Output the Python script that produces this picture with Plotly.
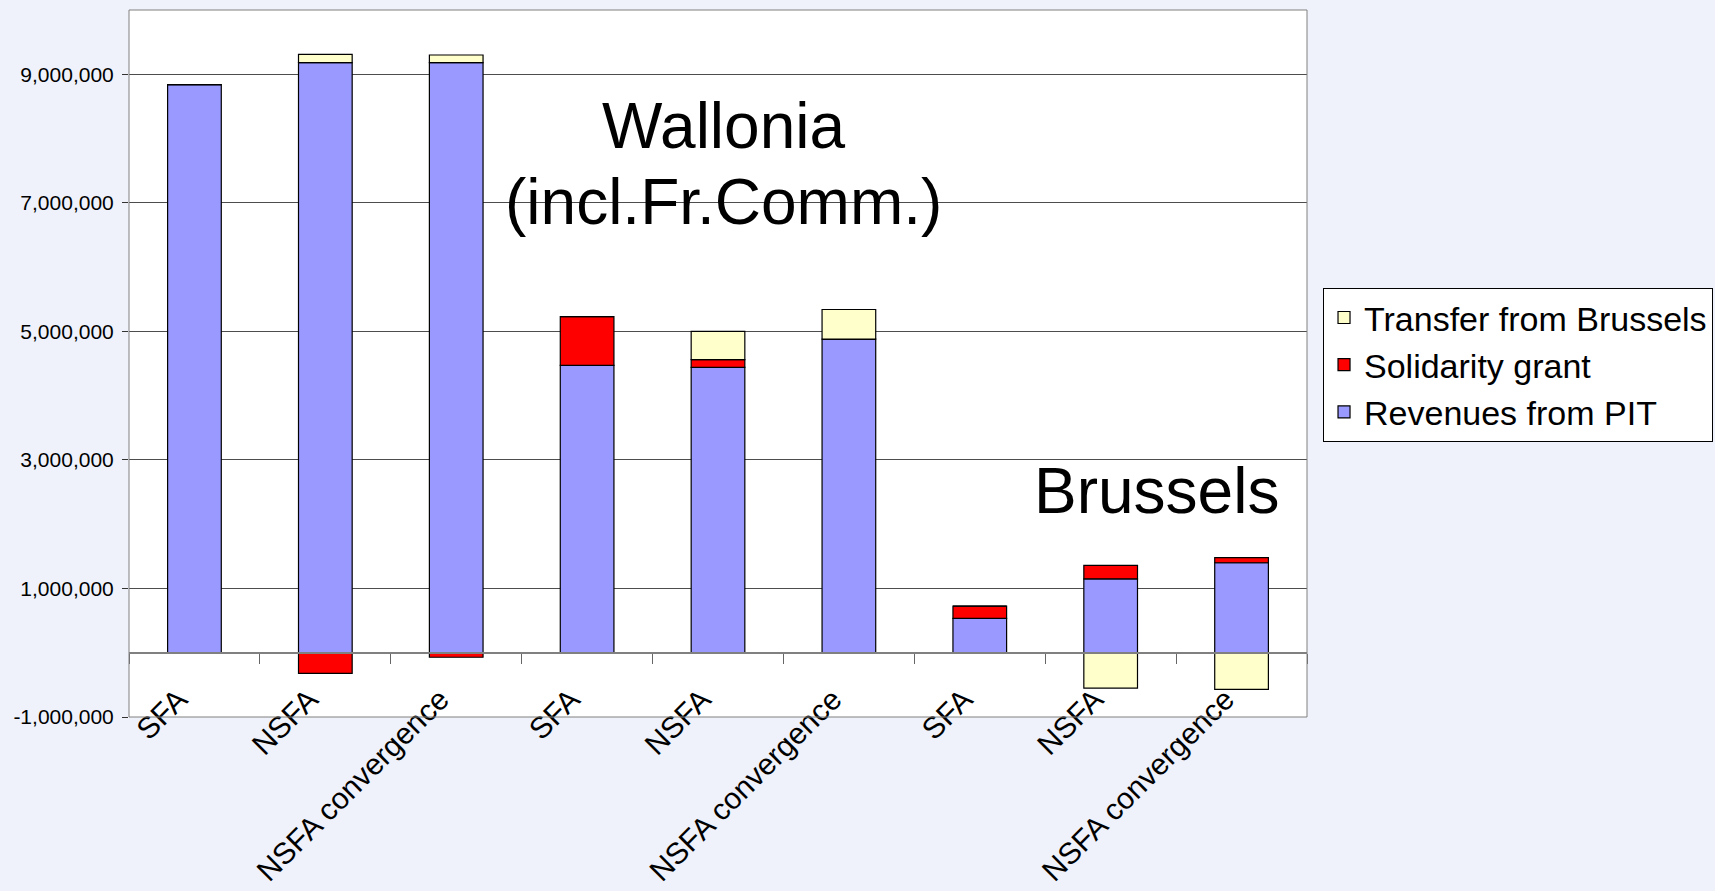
import plotly.graph_objects as go

regions = ["Flanders", "Flanders", "Flanders",
           "Wallonia", "Wallonia", "Wallonia",
           "Brussels", "Brussels", "Brussels"]
scenarios = ["SFA", "NSFA", "NSFA convergence",
             "SFA", "NSFA", "NSFA convergence",
             "SFA", "NSFA", "NSFA convergence"]
revenues_pit = [8840000, 9180000, 9180000, 4470000, 4440000, 4880000, 535000, 1150000, 1400000]
solidarity_grant = [0, -320000, -70000, 760000, 120000, 0, 190000, 210000, 80000]
transfer_brussels = [0, 130000, 120000, 0, 440000, 460000, 0, -550000, -570000]

y_min, y_max = -1000000, 10000000
y_ticks = [-1000000, 1000000, 3000000, 5000000, 7000000, 9000000]
y_ticktext = [f"{v:,}" for v in y_ticks]
keys = [f"{r} {s}" for r, s in zip(regions, scenarios)]

font_family = "Liberation Sans, Arial, sans-serif"
line_style = dict(color="black", width=1.2)
bg = "#EFF2FA"

fig = go.Figure()
fig.add_trace(go.Bar(name="Revenues from PIT", x=keys, y=revenues_pit,
                     marker=dict(color="#9999FF", line=line_style), width=0.41))
fig.add_trace(go.Bar(name="Solidarity grant", x=keys, y=solidarity_grant,
                     marker=dict(color="#FF0000", line=line_style), width=0.41))
fig.add_trace(go.Bar(name="Transfer from Brussels", x=keys, y=transfer_brussels,
                     marker=dict(color="#FFFFCC", line=line_style), width=0.41))

fig.update_layout(
    width=1715, height=891,
    margin=dict(l=129, r=408, t=10, b=174, autoexpand=False),
    paper_bgcolor=bg,
    plot_bgcolor="white",
    barmode="relative",
    font=dict(family=font_family, color="black"),
    showlegend=True,
    legend=dict(
        x=1.0136, xanchor="left", y=0.498, yanchor="middle",
        traceorder="reversed",
        bgcolor="white", bordercolor="black", borderwidth=1,
        font=dict(size=34, family=font_family, color="black"),
    ),
    xaxis=dict(
        type="category",
        categoryorder="array", categoryarray=keys,
        tickmode="array", tickvals=keys, ticktext=scenarios,
        tickangle=-45,
        tickfont=dict(size=30, family=font_family, color="black"),
        anchor="free", position=(0 - y_min) / (y_max - y_min),
        showline=True, linecolor="#808080", linewidth=2,
        ticks="outside", tickson="boundaries", ticklen=10, tickcolor="#666666", tickwidth=1,
        ticklabelstandoff=16, ticklabelshift=-16,
        showgrid=False, zeroline=False, automargin=False,
        range=[-0.5, 8.5],
    ),
    yaxis=dict(
        range=[y_min, y_max],
        tickmode="array", tickvals=y_ticks, ticktext=y_ticktext,
        tickfont=dict(size=21, family=font_family, color="black"),
        showgrid=True, gridcolor="#4d4d4d", gridwidth=1,
        zeroline=False,
        showline=False, automargin=False,
        ticks="outside", ticklen=6, tickcolor="#333333",
        ticklabelstandoff=4,
    ),
    shapes=[dict(type="rect", xref="paper", yref="paper", x0=0, x1=1, y0=0, y1=1,
                 line=dict(color="#808080", width=1), layer="above")],
    annotations=[
        dict(text="Wallonia", xref="paper", yref="y",
             x=0.505, y=8190000, xanchor="center", yanchor="middle",
             showarrow=False, font=dict(size=64, family=font_family, color="black")),
        dict(text="(incl.Fr.Comm.)", xref="paper", yref="y",
             x=0.505, y=7020000, xanchor="center", yanchor="middle",
             showarrow=False, font=dict(size=64, family=font_family, color="black")),
        dict(text="Brussels", xref="paper", yref="y",
             x=0.872, y=2510000, xanchor="center", yanchor="middle",
             showarrow=False, font=dict(size=64, family=font_family, color="black")),
    ],
)

fig.write_html(
    "out.html",
    config={"displayModeBar": False},
    post_script="document.body.style.margin='0';document.body.style.background='" + bg + "';",
)
